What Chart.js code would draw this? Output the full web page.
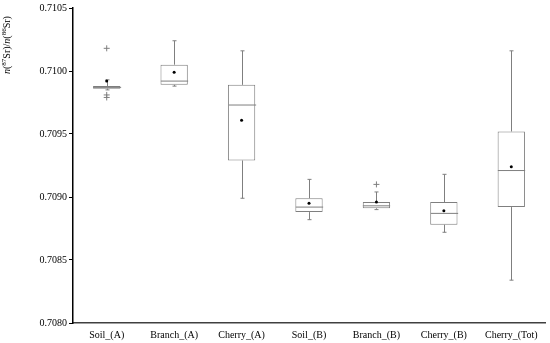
<!DOCTYPE html>
<html>
<head>
<meta charset="utf-8">
<script src="https://cdn.jsdelivr.net/npm/chart.js@4"></script>
<style>
    html, body { margin: 0; padding: 0; background: #fff; }
    #wrap { position: relative; width: 550px; height: 343px; }
    #yTitle {
        position: absolute;
        left: 1px;
        top: 74px;
        transform-origin: 0 0;
        transform: rotate(-90deg);
        font: 10px 'Liberation Serif', serif;
        line-height: 11px;
        white-space: nowrap;
        color: #000;
    }
    #yTitle sup { font-size: 7px; line-height: 0; vertical-align: 4px; }
</style>
</head>
<body>
<div id="wrap">
    <canvas id="boxChart" width="550" height="343"></canvas>
    <div id="yTitle"><i>n</i>(<sup>87</sup>Sr)/<i>n</i>(<sup>86</sup>Sr)</div>
</div>
<script>
// Dados
const categories = ['Soil_(A)', 'Branch_(A)', 'Cherry_(A)', 'Soil_(B)', 'Branch_(B)', 'Cherry_(B)', 'Cherry_(Tot)'];
const whiskerLow  = [0.70985, 0.70988, 0.70899, 0.70882, 0.70890, 0.70872, 0.70834];
const q1Values    = [0.70986, 0.70989, 0.70929, 0.70888, 0.70891, 0.70878, 0.70892];
const medians     = [0.70987, 0.70992, 0.70973, 0.70892, 0.70893, 0.70887, 0.70921];
const q3Values    = [0.70988, 0.71005, 0.70989, 0.70899, 0.70896, 0.70896, 0.70952];
const whiskerHigh = [0.70993, 0.71024, 0.71016, 0.70914, 0.70904, 0.70918, 0.71016];
const means       = [0.70992, 0.70999, 0.70961, 0.70895, 0.70896, 0.70889, 0.70924];
const outlierCats = ['Soil_(A)', 'Soil_(A)', 'Soil_(A)', 'Branch_(B)'];
const outlierVals = [0.71018, 0.70981, 0.70979, 0.70910];
const yTicks = { min: 0.7080, max: 0.7105, step: 0.0005 };

const boxColor = '#7f7f7f';
const serif = 'Liberation Serif';

// Bigodes e medianas desenhados a partir das escalas do Chart.js
const boxExtras = {
    id: 'boxExtras',
    afterDatasetDraw(chart, args) {
        if (args.index !== 0) return;
        const ctx = chart.ctx;
        const xs = chart.scales.x;
        const ys = chart.scales.y;
        const bars = args.meta.data;
        ctx.save();
        ctx.strokeStyle = boxColor;
        ctx.lineWidth = 1;
        categories.forEach((c, i) => {
            const x = Math.round(xs.getPixelForValue(i)) + 0.5;
            const half = bars[i].width / 2;
            const yLow = ys.getPixelForValue(whiskerLow[i]);
            const yHigh = ys.getPixelForValue(whiskerHigh[i]);
            const yQ1 = ys.getPixelForValue(q1Values[i]);
            const yQ3 = ys.getPixelForValue(q3Values[i]);
            const yMed = ys.getPixelForValue(medians[i]);
            ctx.beginPath();
            ctx.moveTo(x, yQ3); ctx.lineTo(x, yHigh);
            ctx.moveTo(x - 2, yHigh); ctx.lineTo(x + 2, yHigh);
            ctx.moveTo(x, yQ1); ctx.lineTo(x, yLow);
            ctx.moveTo(x - 2, yLow); ctx.lineTo(x + 2, yLow);
            ctx.moveTo(x - half, yMed); ctx.lineTo(x + half, yMed);
            ctx.stroke();
        });
        ctx.restore();
    }
};

function initBoxChart() {
    const ctx = document.getElementById('boxChart');
    new Chart(ctx.getContext('2d'), {
        type: 'bar',
        data: {
            labels: categories,
            datasets: [{
                label: 'Caixa',
                data: q1Values.map((q, i) => [q, q3Values[i]]),
                backgroundColor: '#ffffff',
                borderColor: boxColor,
                borderWidth: 1,
                borderSkipped: false,
                barPercentage: 0.405,
                categoryPercentage: 1,
                order: 3
            }, {
                type: 'line',
                label: 'Média',
                data: means,
                showLine: false,
                pointRadius: 1.5,
                pointBackgroundColor: '#000',
                pointBorderWidth: 0,
                order: 1
            }, {
                type: 'line',
                label: 'Outliers',
                data: outlierCats.map((c, i) => ({ x: c, y: outlierVals[i] })),
                showLine: false,
                pointStyle: 'cross',
                pointRadius: 3,
                borderColor: boxColor,
                pointBorderWidth: 1,
                order: 2
            }]
        },
        options: {
            responsive: false,
            animation: false,
            layout: { padding: { top: 5, right: 2, left: 0, bottom: 0 } },
            plugins: {
                legend: { display: false },
                tooltip: { enabled: false }
            },
            scales: {
                x: {
                    grid: { display: false, drawTicks: false },
                    border: { color: '#404040', width: 1.5 },
                    ticks: { font: { family: serif, size: 10 }, color: '#000', padding: 6 },
                    afterFit: s => { s.height = 20; }
                },
                y: {
                    min: yTicks.min,
                    max: yTicks.max,
                    ticks: {
                        stepSize: yTicks.step,
                        callback: v => v.toFixed(4),
                        font: { family: serif, size: 10 },
                        color: '#000',
                        padding: 2
                    },
                    grid: { drawOnChartArea: false, tickLength: 4, color: '#000' },
                    border: { color: '#000', width: 1.5 },
                    afterFit: s => { s.width = 73; }
                }
            }
        },
        plugins: [boxExtras]
    });
}

document.addEventListener('DOMContentLoaded', initBoxChart);
</script>
</body>
</html>
